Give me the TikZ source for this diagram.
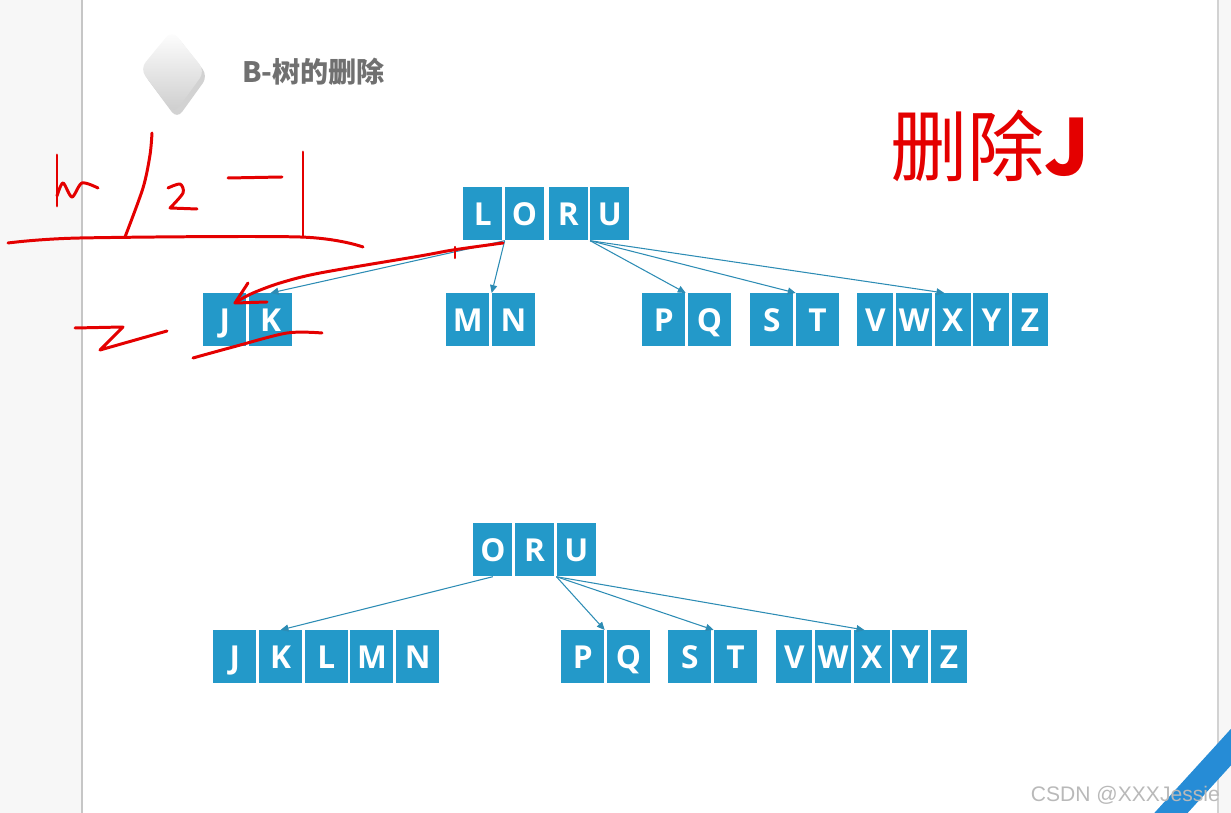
\documentclass[tikz,border=0pt]{standalone}
\usepackage{fontspec}
\setmainfont{Open Sans}
\newfontfamily\cjk{Noto Sans CJK SC}
\newfontfamily\wmfont{Liberation Sans}
\usetikzlibrary{arrows.meta,positioning,calc}
\definecolor{keyBlue}{RGB}{35,153,201}
\definecolor{linkTeal}{RGB}{45,140,180}
\definecolor{inkRed}{RGB}{228,0,0}
\definecolor{titleGray}{RGB}{112,112,112}
\definecolor{cornerBlue}{RGB}{38,140,214}
\tikzset{
  keybox/.style={fill=keyBlue, text=white, font=\bfseries\fontsize{18}{18}\selectfont,
    minimum width=0.86cm, minimum height=1.06cm, inner sep=0pt,
    text height=12.9pt, text depth=0pt},
  narrowkey/.style={keybox, minimum width=0.72cm},
  rootkey/.style={keybox, minimum width=0.78cm},
  link/.style={linkTeal, line width=0.6pt, -{Triangle[length=4.5pt,width=4pt]}},
  ink/.style={inkRed, line width=1.7pt, line cap=round, line join=round},
}

\begin{document}
\begin{tikzpicture}[x=0.02cm, y=-0.02cm]
\useasboundingbox (0,0) rectangle (1231,813);

% slide frame
\fill[gray!6] (0,0) rectangle (82,813);
\draw[gray!45, line width=0.8pt] (82,0) -- (82,813);
\fill[gray!6] (1218,0) rectangle (1231,813);
\draw[gray!35, line width=0.6pt] (1218,0) -- (1218,813);
\begin{scope}
\clip (0,0) rectangle (1231,813);
\draw[cornerBlue, line width=14pt, line cap=round] (1160,825) -- (1242,735);
\end{scope}

% title
\fill[gray!35, rounded corners=5pt] (175,34) -- (208,76) -- (177,119) -- (143,73) -- cycle;
\shade[top color=white, bottom color=gray!40, rounded corners=5pt]
  (172,30) -- (205,71) -- (174,114) -- (140,69) -- cycle;
\node[anchor=west, text=titleGray, font=\cjk\bfseries\fontsize{16}{16}\selectfont] (title) at (236,72) {B-树的删除};
\node[anchor=west, text=inkRed, font=\cjk\fontsize{44}{44}\selectfont] (delJ) at (884,146) {删除\textbf{J}};

% before: root
\node[rootkey, anchor=north west] (aL) at (463,187) {L};
\node[rootkey, right=0.04cm of aL] (aO) {O};
\node[rootkey, right=0.08cm of aO] (aR) {R};
\node[rootkey, right=0.04cm of aR] (aU) {U};
% before: leaves
\node[keybox, anchor=north west] (aJ) at (203,293) {J};
\node[keybox, right=0.04cm of aJ] (aK) {K};
\node[keybox, anchor=north west] (aM) at (446,293) {M};
\node[keybox, right=0.04cm of aM] (aN) {N};
\node[keybox, anchor=north west] (aP) at (642,293) {P};
\node[keybox, right=0.04cm of aP] (aQ) {Q};
\node[keybox, anchor=north west] (aS) at (750,293) {S};
\node[keybox, right=0.04cm of aS] (aT) {T};
\node[narrowkey, anchor=north west] (aV) at (857,293) {V};
\node[narrowkey, right=0.04cm of aV] (aW) {W};
\node[narrowkey, right=0.04cm of aW] (aX) {X};
\node[narrowkey, right=0.04cm of aX] (aY) {Y};
\node[narrowkey, right=0.04cm of aY] (aZ) {Z};

\draw[link] (aO.south west) -- (aK.north);
\draw[link] (aO.south west) -- (aN.north west);
\draw[link] (aU.south west) -- (aP.north east);
\draw[link] (aU.south west) -- (aT.north west);
\draw[link] (aU.south west) -- ([xshift=0.2cm]aX.north west);

% after: root
\node[rootkey, anchor=north west] (bO) at (473,523) {O};
\node[rootkey, right=0.04cm of bO] (bR) {R};
\node[rootkey, right=0.04cm of bR] (bU) {U};
% after: leaves
\node[keybox, anchor=north west] (bJ) at (213,630) {J};
\node[keybox, right=0.04cm of bJ] (bK) {K};
\node[keybox, right=0.04cm of bK] (bL) {L};
\node[keybox, right=0.04cm of bL] (bM) {M};
\node[keybox, right=0.04cm of bM] (bN) {N};
\node[keybox, anchor=north west] (bP) at (561,630) {P};
\node[keybox, right=0.04cm of bP] (bQ) {Q};
\node[keybox, anchor=north west] (bS) at (668,630) {S};
\node[keybox, right=0.04cm of bS] (bT) {T};
\node[narrowkey, anchor=north west] (bV) at (776,630) {V};
\node[narrowkey, right=0.04cm of bV] (bW) {W};
\node[narrowkey, right=0.04cm of bW] (bX) {X};
\node[narrowkey, right=0.04cm of bX] (bY) {Y};
\node[narrowkey, right=0.04cm of bY] (bZ) {Z};

\draw[link] (bO.south) -- (bK.north);
\draw[link] (bU.south west) -- (bP.north east);
\draw[link] (bU.south west) -- (bT.north west);
\draw[link] (bU.south west) -- ([xshift=0.22cm]bX.north west);

% handwritten notes
\draw[ink] (57,155) -- (57,206);
\draw[ink] plot[smooth] coordinates {(57,196) (63,183) (72,197) (82,183) (98,188)};
\draw[ink] plot[smooth] coordinates {(152,133) (150,155) (143,188) (125,237)};
\draw[ink] plot[smooth] coordinates {(168,188) (180,184) (183,193) (170,208)} -- (197,209);
\draw[ink] (228,178) -- (282,177);
\draw[ink] (303,152) -- (303,237);
\draw[ink] plot[smooth] coordinates {(8,243) (80,238) (300,237) (363,247)};
\draw[ink] (75,328) -- (123,327) -- (100,350) -- (167,331);
\draw[ink] plot[smooth] coordinates {(193,358) (233,347) (287,333) (322,333)};
\draw[ink] plot[smooth] coordinates {(503,243) (453,250) (420,256) (320,273) (280,283) (253,293) (236,302)};
\draw[ink, line width=1.2pt] (455,247) -- (455,258);
\draw[ink] (248,283) -- (235,303) -- (267,302);

% watermark
\node[anchor=east, text=gray!55, font=\wmfont\fontsize{12}{12}\selectfont] (mark) at (1226,795) {CSDN @XXXJessie};
\end{tikzpicture}
\end{document}
